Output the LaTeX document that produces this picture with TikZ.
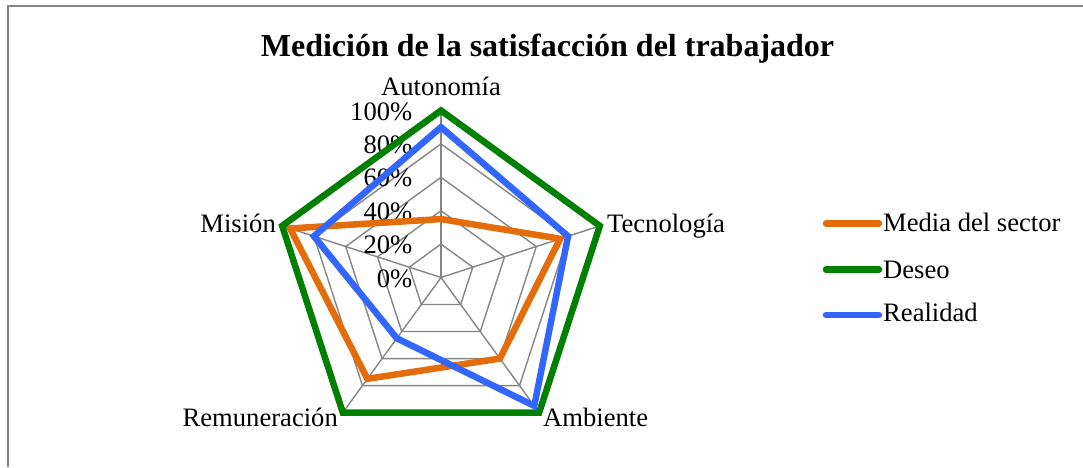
\documentclass[tikz,border=0pt]{standalone}
\usepackage{fontspec}
\setmainfont{Liberation Serif}
\usetikzlibrary{calc}
\definecolor{serOrange}{RGB}{228,108,10}
\definecolor{serGreen}{RGB}{0,128,0}
\definecolor{serBlue}{RGB}{51,102,255}
\definecolor{gridGray}{RGB}{134,134,134}
\begin{document}
\begin{tikzpicture}[x=1pt,y=1pt,
  gridline/.style={draw=gridGray,line width=1.4pt},
  frameline/.style={draw=gridGray,line width=2pt},
  series/.style={line width=6.5pt,line join=miter},
  axislabel/.style={inner sep=0pt,font=\fontsize{26.6}{30}\selectfont},
  ticklabel/.style={inner sep=0pt,anchor=base east,font=\fontsize{26.6}{30}\selectfont},
  legendtext/.style={inner sep=0pt,anchor=base west,font=\fontsize{26.6}{30}\selectfont},
  legendline/.style={line width=6.5pt,line cap=round}]
\useasboundingbox (0,0) rectangle (1083,467);
\fill[white] (0,0) rectangle (1083,467);
% frame
\draw[frameline] (7.5,0) -- (7.5,460.5) -- (1083,460.5);
% title
\node[inner sep=0pt,anchor=base,font=\fontsize{32}{36}\selectfont\bfseries] (title) at (547.5,410) {Medición de la satisfacción del trabajador};
% centre
\coordinate (O) at (441,189.5);
% grid pentagons
\foreach \k in {1,...,5}{
  \draw[gridline] ($(O)+(90:\k*33.4)$) -- ($(O)+(18:\k*33.4)$) -- ($(O)+(-54:\k*33.4)$) -- ($(O)+(-126:\k*33.4)$) -- ($(O)+(162:\k*33.4)$) -- cycle;
}
% axis ends
\coordinate (aAut) at ($(O)+(90:167)$);
\coordinate (aTec) at ($(O)+(18:167)$);
\coordinate (aAmb) at ($(O)+(-54:167)$);
\coordinate (aRem) at ($(O)+(-126:167)$);
\coordinate (aMis) at ($(O)+(162:167)$);
\foreach \a in {aAut,aTec,aAmb,aRem,aMis}{\draw[gridline] (O) -- (\a);}
% tick labels
\foreach \k/\t in {0/0\%,1/20\%,2/40\%,3/60\%,4/80\%,5/100\%}{
  \node[ticklabel] (tick\k) at (412.5,180+\k*33.4) {\t};
}
% series
\draw[series,serOrange] ($(O)+(90:0.35*167)$) -- ($(O)+(18:0.75*167)$) -- ($(O)+(-54:0.60*167)$) -- ($(O)+(-126:0.75*167)$) -- ($(O)+(162:0.95*167)$) -- cycle;
\draw[series,serGreen] (aAut) -- (aTec) -- (aAmb) -- (aRem) -- (aMis) -- cycle;
\draw[series,serBlue] ($(O)+(90:0.90*167)$) -- ($(O)+(18:0.80*167)$) -- ($(O)+(-54:0.95*167)$) -- ($(O)+(-126:0.45*167)$) -- ($(O)+(162:0.80*167)$) -- cycle;
% axis labels
\node[axislabel,anchor=base] (lAut) at (441,372) {Autonomía};
\node[axislabel,anchor=base west] (lTec) at (607,235) {Tecnología};
\node[axislabel,anchor=base east] (lMis) at (276,235) {Misión};
\node[axislabel,anchor=base east] (lRem) at (338,40.5) {Remuneración};
\node[axislabel,anchor=base west] (lAmb) at (543,40.5) {Ambiente};
% legend
\coordinate (g1a) at (826,243.5); \coordinate (g1b) at (879,243.5);
\coordinate (g2a) at (826,197.5); \coordinate (g2b) at (879,197.5);
\coordinate (g3a) at (826,152); \coordinate (g3b) at (879,152);
\draw[legendline,serOrange] (g1a) -- (g1b);
\draw[legendline,serGreen] (g2a) -- (g2b);
\draw[legendline,serBlue] (g3a) -- (g3b);
\node[legendtext] (t1) at (883,235.3) {Media del sector};
\node[legendtext] (t2) at (883,189) {Deseo};
\node[legendtext] (t3) at (883,145.3) {Realidad};
\end{tikzpicture}
\end{document}
